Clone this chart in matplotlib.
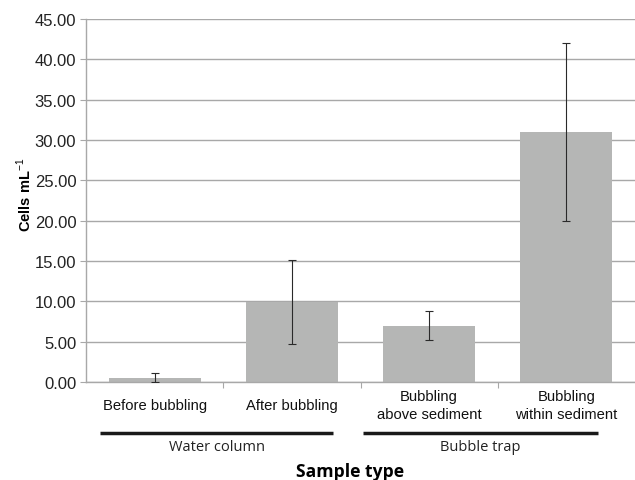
import matplotlib.pyplot as plt
import matplotlib.transforms as mtransforms

plt.rcParams['mathtext.fontset'] = 'custom'
plt.rcParams['mathtext.rm'] = 'Liberation Sans'
plt.rcParams['mathtext.bf'] = 'Liberation Sans:bold'

samples = ['Before bubbling', 'After bubbling', 'Bubbling\nabove sediment', 'Bubbling\nwithin sediment']
cells = [0.55, 9.9, 7.0, 31.0]
errors = [0.55, 5.2, 1.75, 11.0]
groups = ['Water column', 'Bubble trap']

fig = plt.figure(figsize=(6.35, 4.81), dpi=100)
ax = fig.add_axes([86 / 635, 1 - 383 / 481, 1 - 86 / 635, 363 / 481])

x = list(range(len(samples)))
ax.bar(x, cells, width=0.67, color='#b5b6b5', zorder=2)
ax.errorbar(x, cells, yerr=errors, fmt='none', ecolor='#2a2a2a',
            elinewidth=0.8, capsize=3, capthick=0.8, zorder=3)

ax.set_ylim(0, 45)
ax.set_xlim(-0.5, 3.5)
ax.set_yticks(range(0, 46, 5))
ax.set_yticklabels(['%.2f' % v for v in range(0, 46, 5)],
                   fontfamily='Liberation Sans', fontsize=12, color='#222222')
ax.yaxis.grid(True, color='#a8a8a8', linewidth=1, zorder=0)
ax.set_axisbelow(True)

ax.set_xticks([0.5, 1.5, 2.5])
ax.set_xticklabels([])
ax.tick_params(axis='x', length=4, color='#a8a8a8', direction='out')
ax.tick_params(axis='y', length=4, color='#a8a8a8', direction='out', pad=3)

for s in ['top', 'right']:
    ax.spines[s].set_visible(False)
for s in ['left', 'bottom']:
    ax.spines[s].set_color('#a8a8a8')
    ax.spines[s].set_linewidth(1)

trans = mtransforms.blended_transform_factory(ax.transData, ax.transAxes)
for i, lab in enumerate(samples):
    ax.text(i, -0.063, lab, transform=trans, ha='center', va='center',
            fontfamily='Liberation Sans', fontsize=10.6, color='#111111',
            linespacing=1.3)

# group brackets below the category labels (axes fraction)
spans = [(0.0255, 0.450), (0.5046, 0.9326)]
for g, (a, b) in zip(groups, spans):
    ax.plot([a, b], [-0.14, -0.14], transform=ax.transAxes,
            color='#1a1a1a', linewidth=2.5, clip_on=False, solid_capstyle='butt')
    ax.text((a + b) / 2, -0.179, g, transform=ax.transAxes, ha='center', va='center',
            fontfamily='Open Sans', fontsize=10.5, color='#222222')

fig.text(350 / 635, 1 - 472 / 481, 'Sample type', ha='center', va='center',
         fontfamily='Open Sans', fontweight='bold', fontsize=12.6)
fig.text(24 / 635, 1 - 195 / 481, r'Cells mL$^{\mathrm{-1}}$', ha='center', va='center',
         rotation=90, fontfamily='Liberation Sans', fontweight='bold', fontsize=10.5)

fig.savefig('out.png', dpi=100, facecolor='white')
